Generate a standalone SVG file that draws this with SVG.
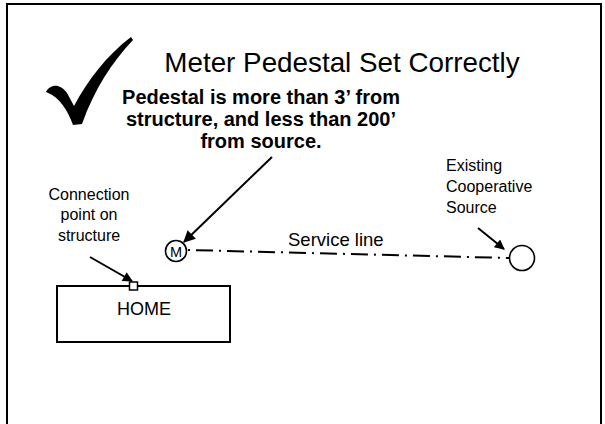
<svg xmlns="http://www.w3.org/2000/svg" width="605" height="424" viewBox="0 0 605 424">
<style>
text{font-family:"Liberation Sans",Arial,sans-serif;fill:#000}
.lbl{font-size:16px}
.bold{font-size:20px;font-weight:bold}
.ln{stroke:#000;stroke-width:2;fill:none}
</style>
<defs>
<marker id="ah" viewBox="0 0 10 10" refX="9" refY="5" markerWidth="6.5" markerHeight="6" orient="auto" markerUnits="strokeWidth">
<path d="M0,0 L10,5 L0,10 Z" fill="#000"/>
</marker>
<marker id="ahs" viewBox="0 0 10 10" refX="9" refY="5" markerWidth="5.5" markerHeight="5" orient="auto" markerUnits="strokeWidth">
<path d="M0,0 L10,5 L0,10 Z" fill="#000"/>
</marker>
</defs>
<rect width="605" height="424" fill="#fff"/>
<rect x="7" y="4" width="594" height="450" fill="none" stroke="#000" stroke-width="2"/>
<path d="M46,92 C50,84 60,83 67,93 L74,106 C88,80 106,56 131,37 L133,40 C112,62 94,90 82,124 L73,125 C68,111 60,97 46,92 Z" fill="#000"/>
<text x="342" y="72" font-size="27.8" text-anchor="middle">Meter Pedestal Set Correctly</text>
<g id="note">
<text class="bold" x="261" y="104" text-anchor="middle">Pedestal is more than 3’ from</text>
<text class="bold" x="261" y="126" text-anchor="middle">structure, and less than 200’</text>
<text class="bold" x="261" y="148" text-anchor="middle">from source.</text>
</g>
<g id="connection-label">
<text class="lbl" x="89" y="200" text-anchor="middle">Connection</text>
<text class="lbl" x="89" y="220" text-anchor="middle">point on</text>
<text class="lbl" x="89" y="241" text-anchor="middle">structure</text>
</g>
<g id="source-label">
<text class="lbl" x="446" y="171">Existing</text>
<text class="lbl" x="446" y="192">Cooperative</text>
<text class="lbl" x="446" y="213">Source</text>
</g>
<g id="connectors">
<line class="ln" x1="188" y1="250" x2="510" y2="258" stroke-dasharray="2 6 17 6"/>
<text x="288" y="246" font-size="18.5">Service line</text>
<line class="ln" x1="272" y1="157" x2="184" y2="242" marker-end="url(#ah)"/>
<line class="ln" x1="478" y1="228" x2="504" y2="249" marker-end="url(#ahs)"/>
<line class="ln" x1="90" y1="257" x2="132" y2="281" marker-end="url(#ahs)"/>
</g>
<g id="meter">
<circle cx="176" cy="251" r="10.5" fill="#fff" stroke="#000" stroke-width="1.6"/>
<text x="176" y="256.5" font-size="14.5" text-anchor="middle">M</text>
</g>
<g id="source">
<circle cx="522" cy="258" r="12.5" fill="#fff" stroke="#000" stroke-width="1.6"/>
</g>
<g id="home">
<rect x="57" y="286" width="173" height="56" fill="#fff" stroke="#000" stroke-width="2"/>
<text x="144" y="315" font-size="18" text-anchor="middle">HOME</text>
</g>
<g id="connection-point">
<rect x="129.5" y="282" width="8" height="8" fill="#fff" stroke="#000" stroke-width="1.5"/>
</g>
</svg>
